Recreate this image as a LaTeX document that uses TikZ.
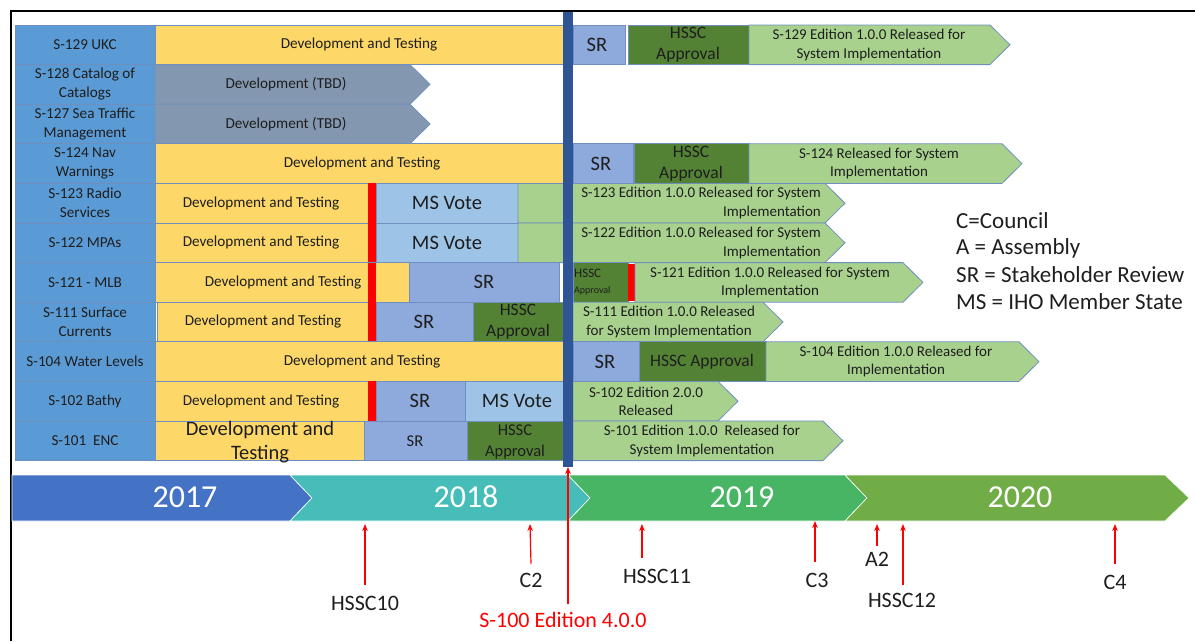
\documentclass[tikz,border=0pt]{standalone}
\usepackage{fontspec}
\setmainfont{Carlito}
\usetikzlibrary{arrows.meta}

\definecolor{lblblue}{HTML}{5B9BD5}
\definecolor{devyellow}{HTML}{FDD868}
\definecolor{tbdgray}{HTML}{8497B0}
\definecolor{srblue}{HTML}{8EA9DB}
\definecolor{voteblue}{HTML}{9DC3E6}
\definecolor{hsscgreen}{HTML}{548235}
\definecolor{relgreen}{HTML}{A9D18E}
\definecolor{edgeblue}{HTML}{6F8FBF}
\definecolor{lineblue}{HTML}{2F5597}
\definecolor{textgray}{HTML}{1E1E1E}
\definecolor{yr17}{HTML}{4472C4}
\definecolor{yr18}{HTML}{46BDB8}
\definecolor{yr19}{HTML}{47B564}
\definecolor{yr20}{HTML}{70AD47}

\tikzset{
  cell/.style={draw=edgeblue, line width=0.8pt},
  lbl/.style={cell, fill=lblblue},
  dev/.style={cell, fill=devyellow},
  tbd/.style={cell, fill=tbdgray},
  srbox/.style={cell, fill=srblue},
  vote/.style={cell, fill=voteblue},
  hssc/.style={cell, fill=hsscgreen},
  rel/.style={cell, fill=relgreen},
  redbar/.style={fill=red},
  txt/.style={font=\fontsize{15.2}{19}\selectfont, align=center, inner sep=0pt, text=textgray},
  reltxt/.style={txt, font=\fontsize{15}{18.5}\selectfont},
  bigtxt/.style={txt, font=\fontsize{20.5}{24}\selectfont},
  aprtxt/.style={txt, font=\fontsize{17.5}{21}\selectfont},
  year/.style={font=\fontsize{32}{32}\selectfont, text=white},
  yearbar/.style={draw=white, line width=0.6pt},
  evt/.style={font=\fontsize{22}{24}\selectfont, text=textgray, inner sep=0pt},
  tick/.style={red, line width=1.2pt, -{Stealth[length=7pt,width=5.5pt]}},
  legend/.style={font=\fontsize{23}{27}\selectfont, anchor=west, inner sep=0pt, text=textgray}
}

% chevron bar: style, left x, body end x, top y
\newcommand\chev[4]{\draw[#1] (#2,#4) -- (#3,#4) -- (#3+20,#4+19.8) -- (#3,#4+39.6) -- (#2,#4+39.6) -- cycle;}

\begin{document}
\begin{tikzpicture}[x=1pt,y=-1pt]
  \useasboundingbox (0,0) rectangle (1195,641);
  \draw[line width=2.5pt] (11,641) -- (11,11) -- (1195,11);

  % S-129
  \draw[lbl] (15,25) rectangle (155,64.6);
  \node[txt] (n129) at (85,44.8) {S-129 UKC};
  \draw[dev] (155,25) rectangle (563,64.6);
  \node[txt] (d129) at (359,44.8) {Development and Testing};
  \draw[srbox] (573,25) rectangle (625,64.6);
  \node[bigtxt] (s129) at (597,44.8) {SR};
  \draw[hssc] (628,25) rectangle (749,64.6);
  \node[aprtxt] (h129) at (688,44.8) {HSSC\\Approval};
  \chev{rel}{749}{990}{25}
  \node[reltxt] (r129) at (869,44.8) {S-129 Edition 1.0.0 Released for\\System Implementation};

  % S-128
  \draw[lbl] (15,64.6) rectangle (155,104.2);
  \node[txt] (n128) at (85,84.4) {S-128 Catalog of\\Catalogs};
  \chev{tbd}{155}{410}{64.6}
  \node[txt] (d128) at (286,84.4) {Development (TBD)};

  % S-127
  \draw[lbl] (15,104.2) rectangle (155,143.8);
  \node[txt] (n127) at (85,124) {S-127 Sea Traffic\\Management};
  \chev{tbd}{155}{410}{104.2}
  \node[txt] (d127) at (286,124) {Development (TBD)};

  % S-124
  \draw[lbl] (15,143.8) rectangle (155,183.4);
  \node[txt] (n124) at (85,163.6) {S-124 Nav\\Warnings};
  \draw[dev] (155,143.8) rectangle (563,183.4);
  \node[txt] (d124) at (362,163.6) {Development and Testing};
  \draw[srbox] (573,143.8) rectangle (633,183.4);
  \node[bigtxt] (s124) at (601,163.6) {SR};
  \draw[hssc] (634,143.8) rectangle (749,183.4);
  \node[aprtxt] (h124) at (691,163.6) {HSSC\\Approval};
  \chev{rel}{749}{1002}{143.8}
  \node[reltxt] (r124) at (879,163.6) {S-124 Released for System\\Implementation};

  % S-123
  \draw[lbl] (15,183.4) rectangle (155,223);
  \node[txt] (n123) at (85,203.2) {S-123 Radio\\Services};
  \draw[dev] (155,183.4) rectangle (368,223);
  \node[txt] (d123) at (261,203.2) {Development and Testing};
  \fill[redbar] (368,183.4) rectangle (376,223);
  \draw[vote] (376,183.4) rectangle (518,223);
  \node[bigtxt] (v123) at (447,203.2) {MS Vote};
  \chev{rel}{518}{825}{183.4}
  \node[reltxt, anchor=east, align=right] (r123) at (821,203.2) {S-123 Edition 1.0.0 Released for System\\Implementation};

  % S-122
  \draw[lbl] (15,223) rectangle (155,262.6);
  \node[txt] (n122) at (85,242.8) {S-122 MPAs};
  \draw[dev] (155,223) rectangle (368,262.6);
  \node[txt] (d122) at (261,242.8) {Development and Testing};
  \fill[redbar] (368,223) rectangle (376,262.6);
  \draw[vote] (376,223) rectangle (518,262.6);
  \node[bigtxt] (v122) at (447,242.8) {MS Vote};
  \chev{rel}{518}{825}{223}
  \node[reltxt, anchor=east, align=right] (r122) at (821,242.8) {S-122 Edition 1.0.0 Released for System\\Implementation};

  % S-121
  \draw[lbl] (15,262.6) rectangle (155,302.2);
  \node[txt] (n121) at (85,282.4) {S-121 - MLB};
  \draw[dev] (155,262.6) rectangle (410,302.2);
  \node[txt] (d121) at (283,282.4) {Development and Testing};
  \fill[redbar] (368,262.6) rectangle (376,302.2);
  \draw[srbox] (409,262.6) rectangle (559,302.2);
  \node[bigtxt] (s121) at (484,282.4) {SR};
  \draw[hssc] (573,262.6) rectangle (628,302.2);
  \node[txt, anchor=west, align=left, font=\fontsize{13}{16}\selectfont] (h121) at (574,282.4) {HSSC\\{\fontsize{10}{12}\selectfont Approval}};
  \fill[redbar] (628,264) rectangle (635,300.5);
  \chev{rel}{635}{903}{262.6}
  \node[reltxt] (r121) at (770,282.4) {S-121 Edition 1.0.0 Released for System\\Implementation};

  % S-111
  \draw[lbl] (15,302.2) rectangle (155,341.8);
  \node[txt] (n111) at (85,322) {S-111 Surface\\Currents};
  \draw[dev] (157,302.2) rectangle (368,341.8);
  \node[txt] (d111) at (263,322) {Development and Testing};
  \fill[redbar] (368,302.2) rectangle (376,341.8);
  \draw[srbox] (376,302.2) rectangle (473,341.8);
  \node[bigtxt] (s111) at (424,322) {SR};
  \draw[hssc] (473,302.2) rectangle (563,341.8);
  \node[aprtxt] (h111) at (518,322) {HSSC\\Approval};
  \chev{rel}{573}{763}{302.2}
  \node[reltxt] (r111) at (669,322) {S-111 Edition 1.0.0 Released\\for System Implementation};

  % S-104
  \draw[lbl] (15,341.8) rectangle (155,381.4);
  \node[txt] (n104) at (85,361.6) {S-104 Water Levels};
  \draw[dev] (155,341.8) rectangle (563,381.4);
  \node[txt] (d104) at (362,361.6) {Development and Testing};
  \draw[srbox] (573,341.8) rectangle (639,381.4);
  \node[bigtxt] (s104) at (605,361.6) {SR};
  \draw[hssc] (639,341.8) rectangle (766,381.4);
  \node[aprtxt] (h104) at (702,361.6) {HSSC Approval};
  \chev{rel}{766}{1019}{341.8}
  \node[reltxt] (r104) at (896,361.6) {S-104 Edition 1.0.0 Released for\\Implementation};

  % S-102
  \draw[lbl] (15,381.4) rectangle (155,421);
  \node[txt] (n102) at (85,401.2) {S-102 Bathy};
  \draw[dev] (155,381.4) rectangle (368,421);
  \node[txt] (d102) at (261,401.2) {Development and Testing};
  \fill[redbar] (368,381.4) rectangle (376,421);
  \draw[srbox] (376,381.4) rectangle (465,421);
  \node[bigtxt] (s102) at (420,401.2) {SR};
  \draw[vote] (465,381.4) rectangle (563,421);
  \node[bigtxt] (v102) at (517,401.2) {MS Vote};
  \chev{rel}{573}{718}{381.4}
  \node[reltxt] (r102) at (646,401.2) {S-102 Edition 2.0.0\\Released};

  % S-101
  \draw[lbl] (15,421) rectangle (155,460.6);
  \node[txt] (n101) at (85,440.8) {S-101\ \ ENC};
  \draw[dev] (155,421) rectangle (364,460.6);
  \node[bigtxt] (d101) at (260,442) {Development and\\Testing};
  \draw[srbox] (364,421) rectangle (467,460.6);
  \node[txt, font=\fontsize{16.5}{18}\selectfont] (s101) at (415,440.8) {SR};
  \draw[hssc] (467,421) rectangle (563,460.6);
  \node[aprtxt, font=\fontsize{16.5}{21}\selectfont] (h101) at (515,441.5) {HSSC\\Approval};
  \chev{rel}{573}{823}{421}
  \node[reltxt] (r101) at (702,440.8) {S-101 Edition 1.0.0\ \ Released for\\System Implementation};

  % cut-off line
  \fill[lineblue] (563,12) rectangle (573,467);

  % legend
  \node[legend] (kc) at (956,221) {C=Council};
  \node[legend] (ka) at (956,248) {A = Assembly};
  \node[legend] (ks) at (956,275) {SR = Stakeholder Review};
  \node[legend] (km) at (956,302) {MS = IHO Member State};

  % years
  \draw[yearbar, fill=yr17] (12,475) -- (290,475) -- (312,498) -- (290,521) -- (12,521) -- cycle;
  \draw[yearbar, fill=yr18] (290,475) -- (568,475) -- (590,498) -- (568,521) -- (290,521) -- (312,498) -- cycle;
  \draw[yearbar, fill=yr19] (568,475) -- (845,475) -- (867,498) -- (845,521) -- (568,521) -- (590,498) -- cycle;
  \draw[yearbar, fill=yr20] (845,475) -- (1165,475) -- (1189,498) -- (1165,521) -- (845,521) -- (867,498) -- cycle;
  \node[year] (y17) at (185,497) {2017};
  \node[year] (y18) at (466,497) {2018};
  \node[year] (y19) at (742,497) {2019};
  \node[year] (y20) at (1020,497) {2020};

  % meetings
  \node[evt] (e1) at (365,603) {HSSC10};
  \node[evt] (e2) at (531,580) {C2};
  \node[evt] (e3) at (657,576) {HSSC11};
  \node[evt] (e4) at (817,580) {C3};
  \node[evt] (e5) at (877,559) {A2};
  \node[evt] (e6) at (902,600) {HSSC12};
  \node[evt] (e7) at (1115,582) {C4};
  \node[evt, text=red] (e8) at (563,620) {S-100 Edition 4.0.0};
  \coordinate (t1) at (365,524);
  \coordinate (t2) at (530,524);
  \coordinate (t3) at (642,524);
  \coordinate (t4) at (815,521);
  \coordinate (t5) at (877,524);
  \coordinate (t6) at (903,524);
  \coordinate (t7) at (1115,524);
  \coordinate (t8) at (568,467);
  \draw[tick] ([yshift=11pt]e1.north) -- (t1);
  \draw[tick] ([yshift=9pt]e2.north) -- (t2);
  \draw[tick] ([xshift=-15pt,yshift=11pt]e3.north) -- (t3);
  \draw[tick] ([xshift=-2pt,yshift=11pt]e4.north) -- (t4);
  \draw[tick] ([yshift=6pt]e5.north) -- (t5);
  \draw[tick] ([xshift=1pt,yshift=8pt]e6.north) -- (t6);
  \draw[tick] ([yshift=11pt]e7.north) -- (t7);
  \draw[tick] ([xshift=5pt,yshift=8pt]e8.north) -- (t8);
\end{tikzpicture}
\end{document}
